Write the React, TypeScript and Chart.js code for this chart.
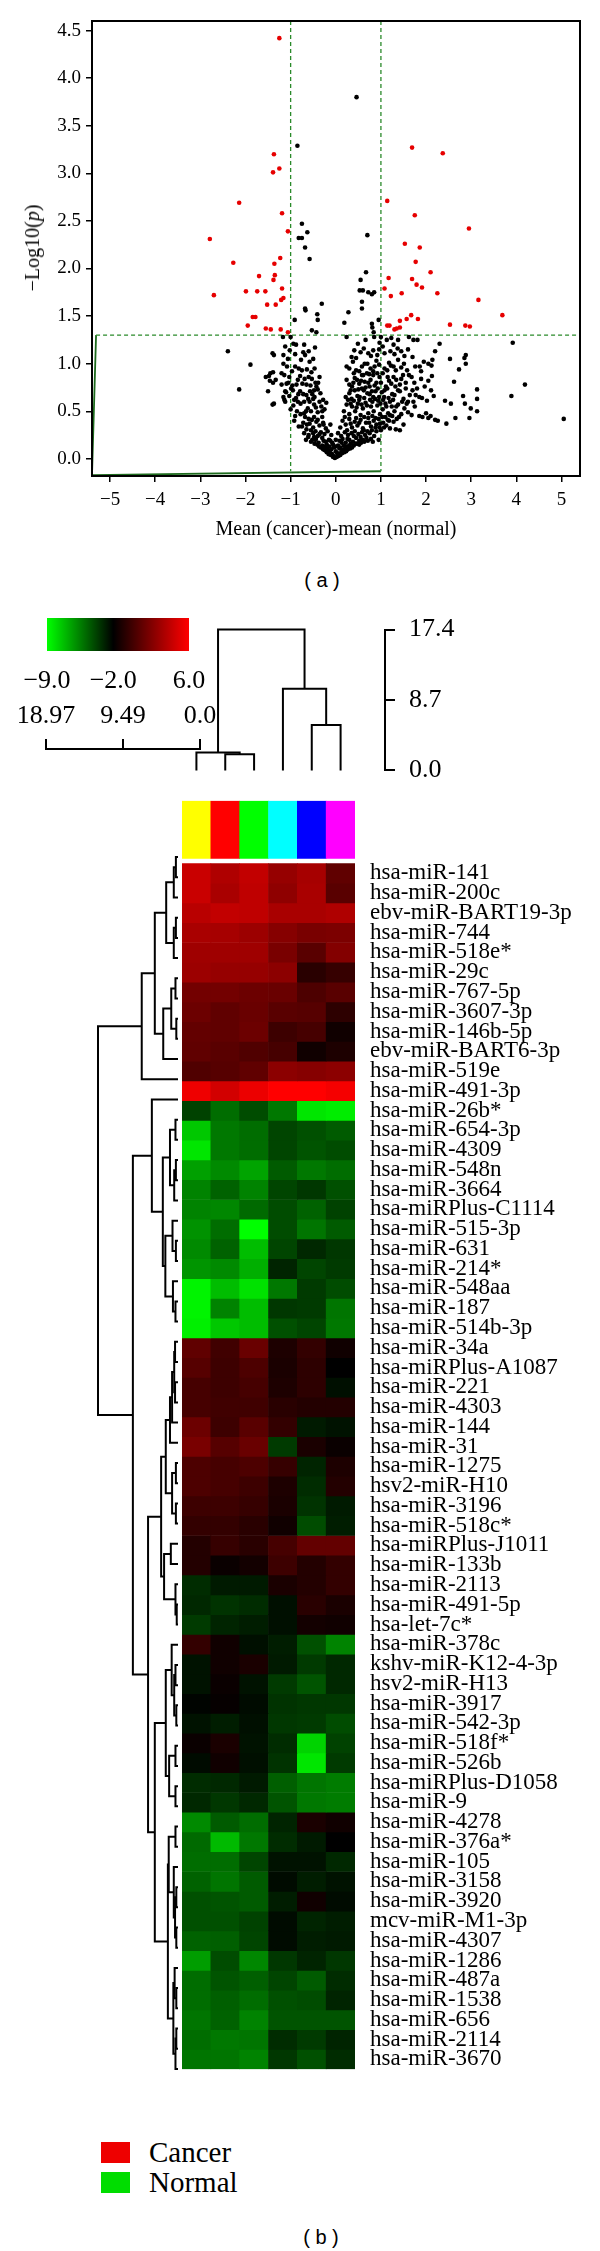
import React, { useEffect, useRef } from 'react';
import { Chart, registerables } from 'chart.js';

Chart.register(...registerables);

const SERIF = '"Liberation Serif", "Times New Roman", Times, serif';
const SANS = '"Liberation Sans", Arial, Helvetica, sans-serif';

// ================= Panel (a): volcano plot =================
const volcanoXTicks = [-5, -4, -3, -2, -1, 0, 1, 2, 3, 4, 5];
const volcanoYTicks = [0, 0.5, 1, 1.5, 2, 2.5, 3, 3.5, 4, 4.5];
const volcanoXLimits = [-5.4, 5.41];
const volcanoYLimits = [-0.18, 4.6];

// significant (red) points: [mean difference, -log10 p]
const significantPoints: number[][] = [
  [-1.25, 4.42], [-1.37, 3.2], [-1.25, 3.05], [-1.39, 3.01], [-2.14, 2.69], [-1.19, 2.58], [-2.79, 2.31],
  [-1.06, 2.39], [-1.23, 2.11], [-2.27, 2.06], [-2.7, 1.72], [-1.99, 1.76], [-1.74, 1.76], [-1.56, 1.76],
  [-1.7, 1.92], [-1.36, 2.05], [-1.35, 1.93], [-1.38, 1.88], [-1.19, 1.79], [-1.16, 1.69], [-1.21, 1.67],
  [-1.52, 1.62], [-1.33, 1.62], [-1.84, 1.49], [-1.78, 1.49], [-1.95, 1.4], [-1.55, 1.37], [-1.44, 1.36],
  [-1.22, 1.36], [-1.06, 1.33],
  [1.69, 3.27], [2.37, 3.21], [1.14, 2.71], [1.75, 2.56], [2.95, 2.42], [1.53, 2.26], [1.86, 2.22],
  [1.77, 2.07], [2.1, 1.96], [1.17, 1.9], [1.69, 1.89], [1.79, 1.83], [1.91, 1.8], [1.08, 1.79],
  [1.46, 1.74], [2.25, 1.74], [1.22, 1.71], [3.16, 1.67], [3.69, 1.51], [1.67, 1.51], [1.82, 1.47],
  [1.57, 1.47], [1.42, 1.45], [2.53, 1.41], [2.87, 1.4], [2.97, 1.39], [1.14, 1.4], [1.19, 1.4],
  [1.3, 1.36], [1.35, 1.37], [1.42, 1.38],
];

// non-significant (black) points
const otherPoints: number[][] = [
  [0.46, 3.8], [-0.85, 3.29], [-0.75, 2.47], [-0.63, 2.38], [-0.82, 2.32], [-0.75, 2.32], [-0.68, 2.22],
  [-0.58, 2.1], [0.7, 2.35], [-0.91, 1.46], [-0.68, 1.58], [-0.67, 1.56], [-0.31, 1.63], [-0.41, 1.52],
  [-0.4, 1.46], [-0.53, 1.35], [-0.43, 1.33], [0.28, 1.54], [0.19, 1.43], [0.55, 1.88], [0.53, 1.77],
  [0.6, 1.77], [0.58, 1.65], [0.58, 1.58], [0.72, 1.75], [0.8, 1.73], [0.85, 1.75], [0.67, 1.96],
  [0.95, 1.46], [0.8, 1.42], [0.81, 1.38], [0.84, 1.33], [0.24, 1.28], [1.0, 1.28], [0.97, 1.22],
  // sparse outliers
  [3.92, 1.22], [4.19, 0.78], [3.89, 0.66], [5.05, 0.42], [-2.39, 1.13], [-1.89, 0.99], [-2.14, 0.73],
  [3.13, 0.73], [3.13, 0.63], [3.13, 0.5], [2.88, 1.09], [2.85, 1.06], [2.88, 1.0], [2.62, 0.81],
  [2.53, 1.05], [2.73, 0.94], [2.45, 0.37], [2.55, 0.58], [2.42, 0.61], [2.65, 0.43], [2.82, 0.66],
  [2.86, 0.58], [2.99, 0.53], [2.96, 0.43], [2.3, 1.21], [2.2, 1.13], [2.14, 1.04], [2.13, 0.87],
  [2.11, 0.72], [2.17, 0.66], [2.1, 0.45], [2.2, 0.41], [2.26, 0.4], [-1.55, 0.86], [-1.45, 0.9],
  [-1.4, 0.57], [-1.46, 0.82],
  // 0.00 - 0.15
  [-0.02, 0.01], [0.02, 0.02], [-0.05, 0.03], [0.05, 0.04], [-0.08, 0.05], [0.08, 0.05], [-0.12, 0.06],
  [0.12, 0.07], [-0.15, 0.08], [0.15, 0.09], [-0.18, 0.1], [0.18, 0.1], [-0.22, 0.12], [0.22, 0.11],
  [-0.26, 0.13], [0.25, 0.13], [-0.1, 0.1], [0.1, 0.12], [0.0, 0.08], [-0.04, 0.12], [0.05, 0.14],
  [-0.3, 0.14], [0.3, 0.14], [-0.14, 0.13], [0.03, 0.06],
  [-0.06, 0.02], [0.06, 0.03], [-0.11, 0.04], [0.1, 0.04], [-0.16, 0.05], [0.14, 0.06], [-0.2, 0.07],
  [0.19, 0.07], [-0.24, 0.09], [0.23, 0.08], [-0.28, 0.1], [0.27, 0.1], [-0.33, 0.12], [0.32, 0.11],
  [-0.37, 0.13], [0.36, 0.12], [0.4, 0.14], [0.08, 0.11], [0.0, 0.13], [0.18, 0.14],
  // 0.15 - 0.30
  [-0.55, 0.18], [-0.45, 0.2], [-0.38, 0.17], [-0.3, 0.22], [-0.22, 0.18], [-0.15, 0.2], [-0.08, 0.17],
  [0.0, 0.2], [0.08, 0.19], [0.15, 0.21], [0.22, 0.17], [0.3, 0.2], [0.38, 0.18], [0.45, 0.22],
  [0.52, 0.19], [0.6, 0.2], [0.68, 0.22], [-0.6, 0.25], [-0.5, 0.27], [-0.4, 0.24], [-0.33, 0.28],
  [-0.25, 0.26], [-0.18, 0.29], [-0.1, 0.25], [0.05, 0.27], [0.12, 0.24], [0.2, 0.28], [0.27, 0.25],
  [0.35, 0.27], [0.42, 0.29], [0.5, 0.26], [0.58, 0.28], [0.65, 0.25], [0.75, 0.27], [0.85, 0.24],
  [0.95, 0.2], [1.0, 0.3], [0.9, 0.29], [-0.44, 0.21], [-0.61, 0.23], [0.33, 0.16], [0.48, 0.16],
  [-0.41, 0.15], [0.44, 0.16], [-0.47, 0.16], [0.52, 0.15], [0.56, 0.17], [0.63, 0.18], [-0.52, 0.2],
  [0.71, 0.19], [0.78, 0.21], [0.82, 0.18], [-0.66, 0.2], [-0.7, 0.27], [-0.2, 0.15], [-0.06, 0.15],
  [0.13, 0.17], [-0.12, 0.19], [0.26, 0.21], [-0.27, 0.19], [0.4, 0.24], [-0.36, 0.26], [0.55, 0.23],
  [-0.48, 0.23], [0.62, 0.3], [0.7, 0.29], [0.8, 0.3], [-0.55, 0.3], [-0.45, 0.29],
  // 0.30 - 0.45
  [-0.82, 0.34], [-0.75, 0.34], [-0.65, 0.31], [-0.58, 0.37], [-0.5, 0.33], [-0.43, 0.39], [-0.36, 0.35],
  [-0.28, 0.38], [-0.22, 0.32], [-0.12, 0.36], [0.1, 0.33], [0.15, 0.4], [0.22, 0.36], [0.3, 0.42],
  [0.36, 0.33], [0.42, 0.39], [0.48, 0.35], [0.55, 0.41], [0.6, 0.32], [0.67, 0.38], [0.72, 0.43],
  [0.78, 0.34], [0.84, 0.4], [0.9, 0.36], [0.95, 0.42], [1.05, 0.38], [1.12, 0.35], [1.2, 0.32],
  [1.28, 0.39], [1.35, 0.42], [1.1, 0.44], [1.18, 0.4], [1.42, 0.3], [1.33, 0.31], [1.5, 0.36],
  [-0.92, 0.4], [-0.68, 0.44], [-0.6, 0.42], [-0.48, 0.44], [-0.3, 0.44], [0.25, 0.3], [-0.27, 0.36],
  [0.88, 0.33], [0.97, 0.33], [-0.72, 0.38], [-0.4, 0.41], [-0.53, 0.41], [-0.64, 0.36], [0.2, 0.44],
  [0.33, 0.37], [0.45, 0.43], [0.52, 0.38], [0.63, 0.44], [0.74, 0.38], [0.81, 0.45], [0.88, 0.43],
  [0.98, 0.37], [1.03, 0.44], [1.15, 0.41], [1.25, 0.45], [1.07, 0.33],
  // 0.45 - 0.60
  [-1.0, 0.52], [-0.94, 0.56], [-0.86, 0.5], [-0.78, 0.58], [-0.7, 0.48], [-0.62, 0.53], [-0.55, 0.5],
  [-0.48, 0.57], [-0.4, 0.49], [-0.32, 0.55], [-0.25, 0.52], [-0.21, 0.59], [0.18, 0.5], [0.24, 0.57],
  [0.3, 0.47], [0.36, 0.55], [0.43, 0.5], [0.49, 0.58], [0.55, 0.46], [0.6, 0.53], [0.66, 0.59],
  [0.72, 0.48], [0.78, 0.55], [0.84, 0.5], [0.92, 0.56], [0.98, 0.47], [1.04, 0.52], [1.1, 0.58],
  [1.16, 0.48], [1.24, 0.55], [1.3, 0.5], [1.38, 0.57], [1.45, 0.47], [1.52, 0.53], [1.6, 0.49],
  [1.68, 0.46], [1.75, 0.55], [1.85, 0.45], [1.92, 0.44], [2.0, 0.48], [2.05, 0.43], [1.4, 0.44],
  [1.2, 0.46], [-1.37, 0.58], [-1.12, 0.6], [-0.84, 0.6],
  [-0.9, 0.45], [-0.78, 0.47], [-0.66, 0.5], [-0.44, 0.54], [-0.3, 0.5], [0.33, 0.58], [0.46, 0.54],
  [0.57, 0.57], [0.69, 0.56], [0.99, 0.58], [1.12, 0.55], [1.34, 0.55], [1.57, 0.58], [1.47, 0.6],
  // 0.60 - 0.75
  [-1.5, 0.71], [-1.16, 0.65], [-1.14, 0.62], [-1.12, 0.71], [-1.03, 0.66], [-0.95, 0.72], [-0.88, 0.64],
  [-0.79, 0.71], [-0.72, 0.68], [-0.65, 0.67], [-0.57, 0.71], [-0.5, 0.63], [-0.47, 0.65], [-0.4, 0.73],
  [-0.34, 0.69], [-0.28, 0.62], [0.22, 0.65], [0.3, 0.69], [0.35, 0.63], [0.42, 0.72], [0.48, 0.66],
  [0.53, 0.65], [0.58, 0.74], [0.62, 0.72], [0.7, 0.69], [0.76, 0.62], [0.83, 0.65], [0.88, 0.71],
  [0.96, 0.65], [1.02, 0.7], [1.07, 0.65], [1.14, 0.74], [1.17, 0.64], [1.25, 0.68], [1.3, 0.67],
  [1.38, 0.72], [1.42, 0.71], [1.5, 0.63], [1.55, 0.74], [1.64, 0.67], [1.7, 0.72], [1.77, 0.67],
  [1.85, 0.65], [1.91, 0.64], [2.02, 0.61], [1.6, 0.6],
  [-0.58, 0.6], [-0.36, 0.6], [-0.52, 0.68], [-0.61, 0.63], [-0.7, 0.6], [-0.83, 0.68], [-0.92, 0.62],
  [-1.1, 0.7], [-0.48, 0.72], [0.27, 0.62], [0.4, 0.61], [0.52, 0.62], [0.63, 0.64], [0.75, 0.68],
  [0.81, 0.6], [0.87, 0.63], [0.94, 0.61], [1.05, 0.62], [1.2, 0.6], [1.27, 0.62], [1.72, 0.6],
  [0.33, 0.72], [0.5, 0.73], [0.66, 0.75], [0.8, 0.71], [0.93, 0.74], [1.08, 0.72],
  // 0.75 - 0.90
  [-1.33, 0.83], [-1.48, 0.87], [-1.39, 0.8], [-1.2, 0.9], [-1.14, 0.88], [-1.09, 0.79], [-1.03, 0.86],
  [-0.96, 0.77], [-0.84, 0.83], [-0.74, 0.79], [-0.65, 0.78], [-0.6, 0.86], [-0.53, 0.84], [-0.45, 0.8],
  [-0.36, 0.86], [-0.43, 0.76], [0.24, 0.83], [0.3, 0.78], [0.36, 0.76], [0.42, 0.85], [0.47, 0.83],
  [0.52, 0.79], [0.58, 0.88], [0.64, 0.81], [0.69, 0.9], [0.75, 0.76], [0.77, 0.83], [0.83, 0.88],
  [0.9, 0.8], [0.97, 0.86], [1.04, 0.9], [1.11, 0.76], [1.18, 0.82], [1.23, 0.79], [1.28, 0.86],
  [1.34, 0.83], [1.42, 0.78], [1.49, 0.88], [1.55, 0.8], [1.62, 0.88], [1.68, 0.86], [1.74, 0.8],
  [1.8, 0.74], [1.89, 0.84], [1.97, 0.76], [2.05, 0.82],
  [-0.99, 0.74], [-0.87, 0.78], [-0.79, 0.87], [-0.69, 0.84], [-0.56, 0.77], [-0.39, 0.8], [-1.05, 0.8],
  [-1.2, 0.78], [0.39, 0.8], [0.56, 0.82], [0.72, 0.8], [0.86, 0.77], [1.0, 0.8], [1.15, 0.86],
  [1.32, 0.76], [1.45, 0.84], [0.4, 0.9], [0.52, 0.92], [0.61, 0.88], [0.74, 0.89], [0.92, 0.9],
  // 0.90 - 1.05
  [-1.39, 0.91], [-1.06, 1.05], [-1.16, 1.0], [-1.08, 0.97], [-0.9, 0.97], [-0.75, 0.93], [-0.54, 0.91],
  [-0.47, 0.95], [-0.58, 1.02], [0.24, 0.97], [0.3, 0.95], [0.38, 1.02], [0.45, 0.93], [0.58, 0.97],
  [0.64, 1.0], [0.7, 1.0], [0.77, 0.95], [0.83, 0.92], [0.9, 1.03], [0.96, 0.99], [1.14, 0.93],
  [1.22, 0.98], [1.28, 0.97], [1.38, 1.04], [1.45, 0.96], [1.51, 1.0], [1.58, 0.93], [1.76, 0.97],
  [1.86, 0.97], [1.89, 0.92], [1.95, 1.02], [2.05, 1.0], [2.12, 0.98],
  [-0.64, 0.94], [-0.82, 0.95], [-0.97, 0.92], [-0.77, 1.04], [-0.5, 1.05], [0.86, 0.97], [1.08, 0.95],
  [1.18, 1.01], [1.33, 0.93],
  // 1.05 - 1.30
  [-1.4, 1.11], [-1.37, 1.09], [-1.16, 1.09], [-1.12, 1.18], [-0.94, 1.21], [-0.88, 1.2], [-1.0, 1.28],
  [-1.17, 1.28], [-0.7, 1.2], [-0.72, 1.12], [-0.68, 1.09], [-0.46, 1.17], [0.35, 1.07], [0.41, 1.14],
  [0.45, 1.06], [0.49, 1.21], [0.55, 1.12], [0.62, 1.16], [0.72, 1.11], [0.78, 1.08], [0.83, 1.14],
  [0.92, 1.09], [0.96, 1.15], [1.04, 1.18], [1.08, 1.11], [1.13, 1.25], [1.21, 1.13], [1.23, 1.27],
  [1.28, 1.2], [1.37, 1.16], [1.38, 1.25], [1.45, 1.13], [1.52, 1.08], [1.62, 1.28], [1.7, 1.07],
  [1.72, 1.25], [1.81, 1.25], [1.6, 1.15], [1.3, 1.1], [0.66, 1.25], [0.85, 1.28],
  [-0.9, 1.1], [-1.02, 1.14], [-0.6, 1.13],
];

const foldChangeLeft = [[-1, 4.6], [-1, -0.13]];
const foldChangeRight = [[1, 4.6], [1, -0.13]];
const pValueLine = [[-5.31, 1.3], [5.41, 1.3]];
const boundaryLine = [[-5.31, 1.3], [-5.4, -0.17], [1.0, -0.13]];

// ================= Panel (b): heatmap =================
const sampleColors = ['#ffff00', '#ff0000', '#00ff00', '#00ffff', '#0000ff', '#ff00ff'];
const sampleIds = ['S1', 'S2', 'S3', 'S4', 'S5', 'S6'];
const sampleBand = [-3.17, -0.25];

const mirnaLabels = [
  'hsa-miR-141', 'hsa-miR-200c', 'ebv-miR-BART19-3p', 'hsa-miR-744', 'hsa-miR-518e*', 'hsa-miR-29c',
  'hsa-miR-767-5p', 'hsa-miR-3607-3p', 'hsa-miR-146b-5p', 'ebv-miR-BART6-3p', 'hsa-miR-519e',
  'hsa-miR-491-3p', 'hsa-miR-26b*', 'hsa-miR-654-3p', 'hsa-miR-4309', 'hsa-miR-548n', 'hsa-miR-3664',
  'hsa-miRPlus-C1114', 'hsa-miR-515-3p', 'hsa-miR-631', 'hsa-miR-214*', 'hsa-miR-548aa', 'hsa-miR-187',
  'hsa-miR-514b-3p', 'hsa-miR-34a', 'hsa-miRPlus-A1087', 'hsa-miR-221', 'hsa-miR-4303', 'hsa-miR-144',
  'hsa-miR-31', 'hsa-miR-1275', 'hsv2-miR-H10', 'hsa-miR-3196', 'hsa-miR-518c*', 'hsa-miRPlus-J1011',
  'hsa-miR-133b', 'hsa-miR-2113', 'hsa-miR-491-5p', 'hsa-let-7c*', 'hsa-miR-378c', 'kshv-miR-K12-4-3p',
  'hsv2-miR-H13', 'hsa-miR-3917', 'hsa-miR-542-3p', 'hsa-miR-518f*', 'hsa-miR-526b', 'hsa-miRPlus-D1058',
  'hsa-miR-9', 'hsa-miR-4278', 'hsa-miR-376a*', 'hsa-miR-105', 'hsa-miR-3158', 'hsa-miR-3920',
  'mcv-miR-M1-3p', 'hsa-miR-4307', 'hsa-miR-1286', 'hsa-miR-487a', 'hsa-miR-1538', 'hsa-miR-656',
  'hsa-miR-2114', 'hsa-miR-3670',
];

const expression: number[][] = [
  [4.3, 3.5, 4.1, 2.7, 3.2, 1.0], [4.3, 3.3, 4.0, 2.5, 3.3, 0.8], [3.8, 4.1, 4.0, 3.3, 3.3, 3.5],
  [3.3, 3.2, 2.9, 2.2, 1.8, 1.9], [3.0, 3.0, 3.0, 1.8, 0.8, 2.1], [2.9, 2.7, 2.7, 2.4, -0.7, -0.3],
  [1.6, 1.6, 1.4, 1.3, 0.4, 0.8], [1.4, 1.0, 1.3, 0.8, 0.7, -0.6], [1.1, 1.0, 1.4, -0.1, 0.2, -1.5],
  [1.0, 0.8, 0.5, 0.2, -1.5, -1.1], [0.5, 0.7, 1.0, 2.4, 2.2, 2.4], [5.5, 4.6, 5.4, 6.0, 6.0, 5.7],
  [-3.8, -5.0, -4.1, -5.3, -8.3, -8.5], [-7.5, -5.3, -5.0, -3.9, -4.2, -4.5], [-8.3, -5.3, -5.0, -3.9, -4.3, -4.1],
  [-6.4, -5.8, -6.5, -4.5, -5.3, -5.0], [-5.6, -4.7, -5.6, -3.9, -3.5, -4.2], [-5.6, -5.7, -4.9, -4.1, -4.7, -3.8],
  [-6.0, -5.0, -9.0, -4.1, -5.2, -4.5], [-5.8, -4.7, -7.2, -3.9, -3.1, -3.5], [-6.1, -5.8, -6.8, -3.0, -3.9, -3.6],
  [-8.7, -7.2, -8.2, -5.3, -3.6, -4.1], [-8.7, -5.6, -7.2, -3.5, -3.6, -5.2], [-8.6, -7.5, -7.2, -4.2, -3.9, -5.3],
  [1.0, 0.0, 1.3, -1.1, -0.4, -1.5], [0.7, -0.1, 0.4, -1.2, -0.6, -2.0], [0.2, -0.1, 0.2, -1.1, -0.6, -2.4],
  [0.2, 0.0, 0.0, -0.7, -0.9, -0.9], [1.4, -0.1, 0.8, -0.4, -2.7, -2.5], [1.8, 0.7, 1.3, -3.6, -1.2, -1.7],
  [0.4, 0.2, 0.4, -0.3, -3.0, -1.1], [0.4, 0.2, -0.1, -1.1, -3.2, -0.9], [-0.1, -0.1, -0.3, -1.2, -3.4, -2.7],
  [-0.4, -0.4, -0.7, -1.5, -4.1, -2.8], [-0.9, -0.3, -0.7, 0.2, 1.1, 1.1], [-0.9, -1.7, -1.4, -0.1, -0.9, -0.4],
  [-3.2, -2.7, -2.7, -1.2, -0.9, -0.4], [-3.1, -3.4, -3.2, -2.4, -0.7, -1.2], [-3.6, -3.0, -2.8, -2.4, -1.4, -1.5],
  [-0.4, -1.5, -2.4, -2.8, -4.2, -5.6], [-2.5, -1.5, -1.2, -2.7, -3.6, -3.1], [-2.5, -1.7, -2.5, -3.6, -4.3, -3.1],
  [-2.1, -1.8, -2.3, -3.4, -3.5, -3.5], [-2.5, -2.8, -2.4, -3.5, -3.6, -4.1], [-1.7, -1.2, -2.5, -3.2, -7.8, -3.8],
  [-2.3, -1.5, -2.4, -3.4, -8.3, -3.6], [-3.2, -3.1, -2.7, -4.6, -5.2, -5.4], [-3.1, -3.5, -3.1, -4.3, -5.3, -5.4],
  [-5.8, -4.5, -5.0, -3.0, -1.2, -1.5], [-4.9, -7.1, -5.3, -3.2, -2.7, -2.0], [-5.0, -5.0, -3.9, -2.5, -2.5, -3.1],
  [-4.7, -5.2, -4.5, -2.3, -2.8, -2.5], [-4.2, -4.3, -4.5, -2.8, -1.5, -2.3], [-4.2, -4.2, -3.8, -2.3, -3.0, -2.8],
  [-4.7, -4.6, -3.9, -2.3, -2.8, -2.7], [-6.3, -4.1, -5.7, -3.5, -3.0, -3.5], [-5.0, -4.3, -4.6, -3.9, -4.5, -3.2],
  [-5.0, -4.6, -5.0, -4.2, -4.1, -3.0], [-5.2, -4.7, -5.6, -4.3, -4.3, -4.3], [-5.0, -5.3, -5.2, -3.2, -3.6, -3.0],
  [-5.2, -5.2, -5.6, -3.5, -4.2, -3.2],
];

const keyTicks = [-9, -2, 6];
const keyColors = [[0, 255, 0], [0, 0, 0], [255, 0, 0]];

const rowDistTicks = [18.97, 9.49, 0];
const rowDistLabels = ['18.97', '9.49', '0.0'];
const colDistTicks = [0, 8.7, 17.4];
const colDistLabels = ['0.0', '8.7', '17.4'];

// hclust-style merges: negative = leaf (1-based), positive = earlier merge; third = height
const colMerge: number[][] = [[-2, -3, 2.0], [-1, 1, 2.2], [-5, -6, 5.6], [-4, 3, 10.1], [2, 4, 17.4]];
const rowMerge: number[][] = [
  [-1, -2, 0.5], [1, -3, 1.0], [-4, -5, 0.5], [3, -6, 1.0], [2, 4, 2.8], [-7, -8, 0.6], [-9, -10, 0.4],
  [6, 7, 1.6], [8, -11, 3.5], [5, 9, 5.5], [10, -12, 8.6], [-14, -15, 0.6], [-16, -17, 0.5], [13, -18, 0.9],
  [12, 14, 1.9], [-20, -21, 0.5], [-19, 16, 1.3], [-23, -24, 0.6], [-22, 18, 1.2], [17, 19, 3.0],
  [15, 20, 3.6], [-13, 21, 6.2], [-25, -26, 0.7], [-27, -28, 0.7], [23, 24, 0.9], [25, -29, 1.4],
  [26, -30, 1.9], [-31, -32, 0.5], [-33, -34, 0.5], [28, 29, 1.4], [27, 30, 2.9], [-35, -36, 1.7],
  [-38, -39, 0.3], [-37, 33, 0.6], [32, 34, 3.3], [31, 35, 4.0], [-41, -42, 0.6], [-43, -44, 0.4],
  [37, 38, 0.9], [-40, 39, 1.5], [-45, -46, 0.6], [-47, -48, 0.6], [41, 42, 2.1], [40, 43, 2.9],
  [-49, -50, 0.6], [-52, -53, 0.4], [-54, -55, 0.4], [46, 47, 0.7], [-51, 48, 1.0], [45, 49, 2.2],
  [-57, -58, 0.4], [-56, 51, 0.8], [-59, -60, 0.4], [53, -61, 0.6], [52, 54, 1.1], [50, 55, 2.4],
  [44, 56, 5.5], [36, 57, 7.1], [22, 58, 10.7], [11, 59, 18.97],
];

const legendItems = [
  { label: 'Cancer', color: '#ee0000' },
  { label: 'Normal', color: '#00dd00' },
];

// ================= helpers =================
const minus = (v: number, digits?: number) =>
  (v < 0 ? '\u2212' : '') + (digits === undefined ? String(Math.abs(v)) : Math.abs(v).toFixed(digits));

function valueColor(v: number): string {
  const lo = keyTicks[0], hi = keyTicks[keyTicks.length - 1];
  const c = Math.max(lo, Math.min(hi, v));
  let i = 0;
  while (i < keyTicks.length - 2 && c > keyTicks[i + 1]) i++;
  const t = (c - keyTicks[i]) / (keyTicks[i + 1] - keyTicks[i]);
  const a = keyColors[i], b = keyColors[i + 1];
  const m = (k: number) => Math.round(a[k] + (b[k] - a[k]) * t);
  return `rgb(${m(0)},${m(1)},${m(2)})`;
}

function dendroSegments(merges: number[][], leafPos: (k: number) => number) {
  const pos: number[] = [];
  const hgt: number[] = [];
  const get = (id: number) => (id < 0 ? [leafPos(-id), 0] : [pos[id - 1], hgt[id - 1]]);
  return merges.map(([a, b, h], i) => {
    const [pa, ha] = get(a);
    const [pb, hb] = get(b);
    pos[i] = (pa + pb) / 2;
    hgt[i] = h;
    return [[pa, ha], [pa, h], [pb, h], [pb, hb]];
  });
}

const toXY = (pts: number[][]) => pts.map(([x, y]) => ({ x, y }));

const base = {
  animation: false as const,
  responsive: false,
  maintainAspectRatio: false,
  events: [] as any[],
  plugins: { legend: { display: false }, tooltip: { enabled: false }, title: { display: false } },
};

const framePlugin = {
  id: 'frame',
  afterDatasetsDraw(chart: any) {
    const { ctx, chartArea: a } = chart;
    ctx.save();
    ctx.strokeStyle = '#000';
    ctx.lineWidth = 2;
    ctx.strokeRect(a.left, a.top, a.right - a.left, a.bottom - a.top);
    ctx.restore();
  },
};

// ================= chart configs =================
function volcanoConfig(): any {
  const lineDs = (pts: number[][], dashed: boolean, color: string, width: number) => ({
    type: 'scatter',
    data: toXY(pts),
    showLine: true,
    borderColor: color,
    borderWidth: width,
    borderDash: dashed ? [4, 3] : [],
    pointRadius: 0,
    fill: false,
  });
  return {
    type: 'scatter',
    data: {
      datasets: [
        { data: toXY(otherPoints), backgroundColor: '#000', pointRadius: 2.3, borderWidth: 0 },
        { data: toXY(significantPoints), backgroundColor: '#e60000', pointRadius: 2.3, borderWidth: 0 },
        lineDs(foldChangeLeft, true, '#2a8a2a', 1.3),
        lineDs(foldChangeRight, true, '#2a8a2a', 1.3),
        lineDs(pValueLine, true, '#2a8a2a', 1.3),
        lineDs(boundaryLine, false, '#1e6b1e', 1.8),
      ],
    },
    options: {
      ...base,
      layout: { padding: { left: 0, right: 20, top: 21, bottom: 0 } },
      scales: {
        x: {
          type: 'linear',
          min: volcanoXLimits[0],
          max: volcanoXLimits[1],
          afterBuildTicks: (ax: any) => { ax.ticks = volcanoXTicks.map((v) => ({ value: v })); },
          afterFit: (s: any) => { s.height = 84; },
          ticks: { callback: (v: number) => minus(v), font: { family: SERIF, size: 19 }, color: '#000', padding: 7, maxRotation: 0, autoSkip: false },
          grid: { drawOnChartArea: false, drawTicks: true, tickLength: 6, color: '#000', lineWidth: 1.5 },
          border: { display: false },
          title: { display: true, text: 'Mean (cancer)-mean (normal)', font: { family: SERIF, size: 20 }, color: '#000', padding: { top: 0, bottom: 18 } },
        },
        y: {
          type: 'linear',
          min: volcanoYLimits[0],
          max: volcanoYLimits[1],
          afterBuildTicks: (ax: any) => { ax.ticks = volcanoYTicks.map((v) => ({ value: v })); },
          afterFit: (s: any) => { s.width = 92; },
          ticks: { callback: (v: number) => v.toFixed(1), font: { family: SERIF, size: 19 }, color: '#000', padding: 5, autoSkip: false },
          grid: { drawOnChartArea: false, drawTicks: true, tickLength: 6, color: '#000', lineWidth: 1.5 },
          border: { display: false },
        },
      },
    },
    plugins: [framePlugin],
  };
}

function keyConfig(): any {
  return {
    type: 'bar',
    data: {
      labels: ['key'],
      datasets: [{
        data: [[keyTicks[0], keyTicks[keyTicks.length - 1]]],
        barPercentage: 1,
        categoryPercentage: 1,
        borderWidth: 0,
        backgroundColor: (ctx: any) => {
          const chart = ctx.chart;
          const xs = chart.scales && chart.scales.x;
          if (!chart.chartArea || !xs) return '#000';
          const x0 = xs.getPixelForValue(keyTicks[0]);
          const x1 = xs.getPixelForValue(keyTicks[keyTicks.length - 1]);
          const g = chart.ctx.createLinearGradient(x0, 0, x1, 0);
          keyTicks.forEach((v, i) => {
            const c = keyColors[i];
            g.addColorStop((v - keyTicks[0]) / (keyTicks[keyTicks.length - 1] - keyTicks[0]), `rgb(${c[0]},${c[1]},${c[2]})`);
          });
          return g;
        },
      }],
    },
    options: {
      ...base,
      indexAxis: 'y',
      layout: { padding: { left: 47, right: 31, top: 18, bottom: 0 } },
      scales: {
        x: {
          type: 'linear',
          min: keyTicks[0],
          max: keyTicks[keyTicks.length - 1],
          afterBuildTicks: (ax: any) => { ax.ticks = keyTicks.map((v) => ({ value: v })); },
          afterFit: (s: any) => { s.height = 49; },
          ticks: { callback: (v: number) => minus(v, 1), font: { family: SERIF, size: 26 }, color: '#000', padding: 7, maxRotation: 0, autoSkip: false },
          grid: { display: false },
          border: { display: false },
        },
        y: { display: false },
      },
    },
  };
}

function distScaleConfig(): any {
  return {
    type: 'scatter',
    data: { datasets: [] },
    options: {
      ...base,
      layout: { padding: { left: 46, right: 30, top: 0, bottom: 0 } },
      scales: {
        x: {
          type: 'linear',
          position: 'top',
          reverse: true,
          min: 0,
          max: rowDistTicks[0],
          afterBuildTicks: (ax: any) => { ax.ticks = rowDistTicks.map((v) => ({ value: v })); },
          afterFit: (s: any) => { s.height = 59; },
          ticks: { callback: (_v: number, i: number) => rowDistLabels[i], font: { family: SERIF, size: 26 }, color: '#000', padding: 7, maxRotation: 0, autoSkip: false },
          grid: { drawOnChartArea: false, drawTicks: true, tickLength: 10, color: '#000', lineWidth: 2 },
          border: { display: true, color: '#000', width: 2 },
        },
        y: { type: 'linear', display: false, min: 0, max: 1 },
      },
    },
  };
}

function colDendroConfig(): any {
  const segs = dendroSegments(colMerge, (k) => k - 0.5);
  return {
    type: 'scatter',
    data: {
      datasets: segs.map((s) => ({
        data: s.map(([x, y]) => ({ x, y })),
        showLine: true,
        borderColor: '#000',
        borderWidth: 2,
        pointRadius: 0,
        clip: false,
      })),
    },
    options: {
      ...base,
      layout: { padding: { left: 182, right: 115, top: 26, bottom: 22 } },
      scales: {
        x: { type: 'linear', display: false, min: 0, max: 7.04 },
        y: {
          type: 'linear',
          position: 'right',
          min: 0,
          max: colDistTicks[colDistTicks.length - 1],
          afterBuildTicks: (ax: any) => { ax.ticks = colDistTicks.map((v) => ({ value: v })); },
          afterFit: (s: any) => { s.width = 100; },
          ticks: { callback: (_v: number, i: number) => colDistLabels[i], font: { family: SERIF, size: 26 }, color: '#000', padding: 14, autoSkip: false },
          grid: { drawOnChartArea: false, drawTicks: true, tickLength: 10, color: '#000', lineWidth: 2 },
          border: { display: true, color: '#000', width: 2 },
        },
      },
    },
  };
}

function heatmapConfig(): any {
  const datasets: any[] = [
    {
      data: sampleColors.map(() => sampleBand),
      backgroundColor: sampleColors,
    },
    ...expression.map((row, i) => ({
      data: row.map(() => [i, i + 1]),
      backgroundColor: row.map(valueColor),
    })),
  ].map((d) => ({ ...d, barPercentage: 1, categoryPercentage: 1, grouped: false, borderWidth: 0 }));
  return {
    type: 'bar',
    data: { labels: sampleIds, datasets },
    options: {
      ...base,
      layout: { padding: { left: 182, right: 0, top: 3, bottom: 11 } },
      scales: {
        x: { type: 'category', display: false },
        y: {
          type: 'linear',
          position: 'right',
          reverse: true,
          min: sampleBand[0],
          max: mirnaLabels.length,
          afterBuildTicks: (ax: any) => { ax.ticks = mirnaLabels.map((_, i) => ({ value: i + 0.5 })); },
          afterFit: (s: any) => { s.width = 245; },
          ticks: { callback: (_v: number, i: number) => mirnaLabels[i], font: { family: SERIF, size: 23 }, color: '#000', padding: 7, autoSkip: false },
          grid: { display: false },
          border: { display: false },
        },
      },
    },
  };
}

function rowDendroConfig(): any {
  const segs = dendroSegments(rowMerge, (k) => k - 0.5);
  return {
    type: 'scatter',
    data: {
      datasets: segs.map((s) => ({
        data: s.map(([p, h]) => ({ x: h, y: p })),
        showLine: true,
        borderColor: '#000',
        borderWidth: 2,
        pointRadius: 0,
        clip: false,
      })),
    },
    options: {
      ...base,
      layout: { padding: { left: 98, right: 22, top: 7, bottom: 11 } },
      scales: {
        x: { type: 'linear', display: false, reverse: true, min: 0, max: rowDistTicks[0] },
        y: { type: 'linear', display: false, reverse: true, min: 0, max: mirnaLabels.length },
      },
    },
  };
}

// ================= components =================
function ChartCanvas({ left, top, width, height, make }: { left: number; top: number; width: number; height: number; make: () => any }) {
  const ref = useRef<HTMLCanvasElement>(null);
  useEffect(() => {
    const chart = new Chart(ref.current as HTMLCanvasElement, make());
    return () => chart.destroy();
  }, [make]);
  return (
    <canvas
      ref={ref}
      width={width}
      height={height}
      style={{ position: 'absolute', left, top, width, height, display: 'block' }}
    />
  );
}

export default function App() {
  return (
    <div style={{ position: 'absolute', left: 0, top: 0, width: 600, height: 2251, background: '#fff', overflow: 'hidden' }}>
      <ChartCanvas left={0} top={0} width={600} height={560} make={volcanoConfig} />
      <div
        style={{
          position: 'absolute', left: 32, top: 248, transform: 'translate(-50%, -50%) rotate(-90deg)',
          fontFamily: SERIF, fontSize: 20, whiteSpace: 'nowrap', color: '#000', lineHeight: 1,
        }}
      >
        {'\u2212Log10('}<i>p</i>{')'}
      </div>
      <div style={{ position: 'absolute', left: 322, top: 580, transform: 'translate(-50%, -50%)', fontFamily: SANS, fontSize: 20, whiteSpace: 'pre', lineHeight: 1 }}>
        {'( a )'}
      </div>

      <ChartCanvas left={0} top={600} width={600} height={200} make={colDendroConfig} />
      <ChartCanvas left={0} top={600} width={220} height={100} make={keyConfig} />
      <ChartCanvas left={0} top={690} width={230} height={80} make={distScaleConfig} />
      <ChartCanvas left={0} top={780} width={600} height={1310} make={heatmapConfig} />
      <ChartCanvas left={0} top={840} width={200} height={1250} make={rowDendroConfig} />

      {legendItems.map((it, i) => (
        <div key={it.label} style={{ position: 'absolute', left: 101, top: 2140 + i * 30, height: 24, display: 'flex', alignItems: 'center' }}>
          <div style={{ width: 29, height: 21, background: it.color }} />
          <div style={{ marginLeft: 19, fontFamily: SERIF, fontSize: 29, lineHeight: '24px', color: '#000' }}>{it.label}</div>
        </div>
      ))}

      <div style={{ position: 'absolute', left: 321, top: 2237, transform: 'translate(-50%, -50%)', fontFamily: SANS, fontSize: 20, whiteSpace: 'pre', lineHeight: 1 }}>
        {'( b )'}
      </div>
    </div>
  );
}
